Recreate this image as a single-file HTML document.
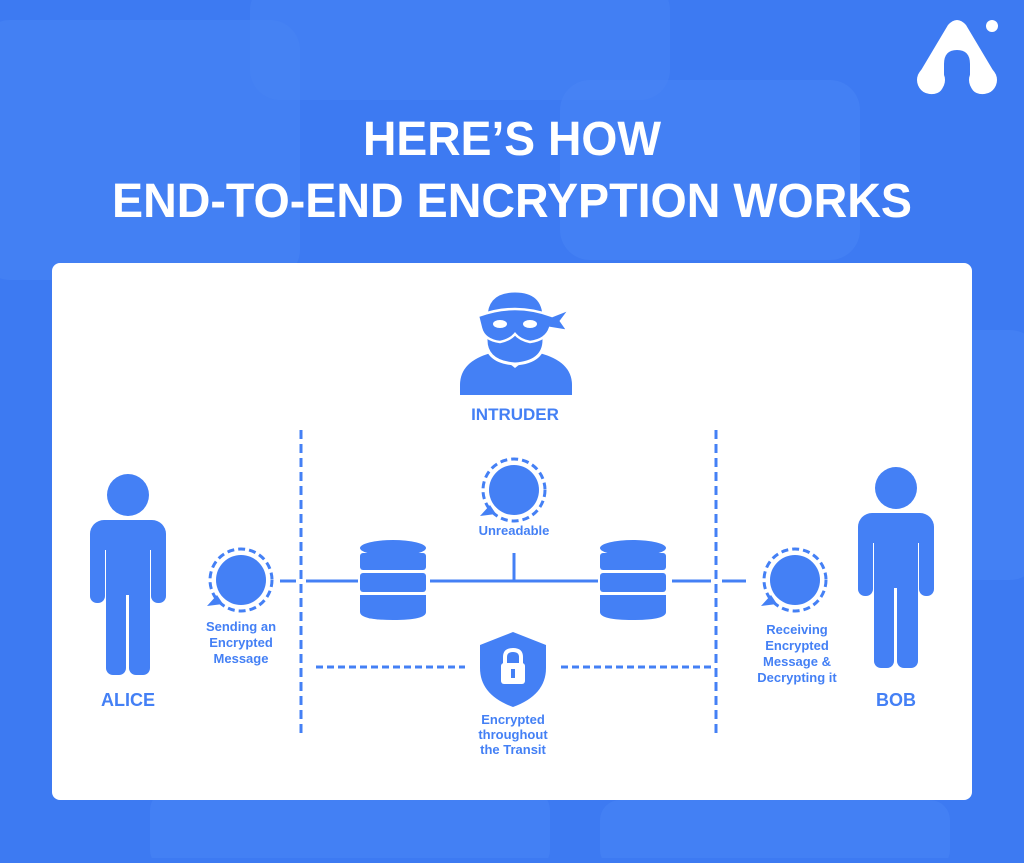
<!DOCTYPE html>
<html><head><meta charset="utf-8"><style>
html,body{margin:0;padding:0}
body{width:1024px;height:858px;overflow:hidden;background:#3d7af2;font-family:"Liberation Sans",sans-serif}
</style></head><body>
<svg width="1024" height="858" viewBox="0 0 1024 858" xmlns="http://www.w3.org/2000/svg">
<defs>
<g id="person">
<circle cx="0" cy="-80" r="21"/>
<rect x="-38" y="-55" width="76" height="30" rx="14"/>
<rect x="-38" y="-45" width="15" height="73" rx="7"/>
<rect x="23" y="-45" width="15" height="73" rx="7"/>
<rect x="-22" y="-55" width="44" height="75"/>
<rect x="-22" y="0" width="20" height="100" rx="7"/>
<rect x="1" y="0" width="21" height="100" rx="7"/>
</g>
<g id="bubble"><circle cx="0" cy="0" r="25"/><circle cx="0" cy="0" r="31" fill="none" stroke="#4480f5" stroke-width="3" stroke-dasharray="7 4"/><path d="M-24,15 L-34,26 L-18,24Z"/></g>
<g id="db"><ellipse cx="0" cy="0" rx="33" ry="8"/><rect x="-33" y="5" width="66" height="17" rx="3"/><rect x="-33" y="25" width="66" height="19" rx="3"/><path d="M-33,47 H33 V64 Q33,72 0,72 Q-33,72 -33,64Z"/></g>
</defs>
<rect x="-20" y="20" width="320" height="260" rx="30" fill="#4784f4" opacity="0.6"/>
<rect x="250" y="-20" width="420" height="120" rx="30" fill="#4784f4" opacity="0.5"/>
<rect x="560" y="80" width="300" height="180" rx="30" fill="#4a86f5" opacity="0.5"/>
<rect x="880" y="330" width="160" height="250" rx="30" fill="#4a86f5" opacity="0.5"/>
<rect x="150" y="790" width="400" height="80" rx="20" fill="#4a86f5" opacity="0.5"/>
<rect x="600" y="800" width="350" height="70" rx="20" fill="#4a86f5" opacity="0.5"/>
<g fill="#fff">
<path fill-rule="evenodd" d="M948,25 Q957,15 966,25 L994,72 Q1000,92 984,94 Q970,95 970,80 L970,64 Q970,50 957,50 Q944,50 944,64 L944,80 Q944,95 930,94 Q914,92 920,72 Z"/>
<circle cx="931" cy="80" r="14"/><circle cx="983" cy="80" r="14"/>
<circle cx="992" cy="26" r="6"/></g>
<text x="512" y="155" text-anchor="middle" fill="#fff" font-weight="bold" font-size="48" textLength="298" lengthAdjust="spacingAndGlyphs">HERE’S HOW</text>
<text x="512" y="217" text-anchor="middle" fill="#fff" font-weight="bold" font-size="48" textLength="800" lengthAdjust="spacingAndGlyphs">END-TO-END ENCRYPTION WORKS</text>
<rect x="52" y="263" width="920" height="537" rx="8" fill="#fff"/>
<g fill="#4480f5">
<use href="#person" x="128" y="575"/>
<use href="#person" x="896" y="568"/>
<use href="#bubble" x="241" y="580"/>
<use href="#bubble" x="795" y="580"/>
<use href="#bubble" x="514" y="490"/>
<use href="#db" x="393" y="548"/>
<use href="#db" x="633" y="548"/>
<path d="M460,395 V385 Q460,360 495,352 L515,368 L535,352 Q572,360 572,385 V395Z"/>
<path d="M486,318 Q486,291 515,291 Q544,291 544,318 V340 Q544,362 515,364 Q486,362 486,340Z" stroke="#fff" stroke-width="3"/>
<path d="M478,316 Q515,302 552,316 L570,309 L561,321 L568,331 L550,328 Q546,340 530,342 Q520,340 515,334 Q510,340 500,342 Q484,340 481,328Z" stroke="#fff" stroke-width="2.5"/>
<path d="M513,632 L546,645 V668 Q546,695 513,707 Q480,695 480,668 V645Z"/>
</g>
<ellipse cx="500" cy="324" rx="7" ry="4" fill="#fff"/><ellipse cx="530" cy="324" rx="7" ry="4" fill="#fff"/>
<rect x="501" y="663" width="24" height="21" rx="3" fill="#fff"/><path d="M505,664 V657 Q505,650 513,650 Q521,650 521,657 V664" fill="none" stroke="#fff" stroke-width="4"/><rect x="511" y="669" width="4" height="9" fill="#4480f5"/>
<g stroke="#4480f5" stroke-width="3" fill="none">
<line x1="301" y1="430" x2="301" y2="737" stroke-dasharray="9 5"/>
<line x1="716" y1="430" x2="716" y2="737" stroke-dasharray="9 5"/>
<line x1="280" y1="581" x2="296" y2="581"/>
<line x1="306" y1="581" x2="358" y2="581"/>
<line x1="430" y1="581" x2="598" y2="581"/>
<line x1="514" y1="553" x2="514" y2="581"/>
<line x1="672" y1="581" x2="711" y2="581"/>
<line x1="722" y1="581" x2="746" y2="581"/>
<line x1="316" y1="667" x2="465" y2="667" stroke-dasharray="7 4"/>
<line x1="561" y1="667" x2="711" y2="667" stroke-dasharray="7 4"/>
</g>
<g fill="#4480f5" font-weight="bold" text-anchor="middle">
<text x="515" y="420" font-size="17">INTRUDER</text>
<text x="128" y="706" font-size="18">ALICE</text>
<text x="896" y="706" font-size="18">BOB</text>
<g font-size="13">
<text x="241" y="631">Sending an</text><text x="241" y="647">Encrypted</text><text x="241" y="663">Message</text>
<text x="514" y="535">Unreadable</text>
<text x="513" y="724">Encrypted</text><text x="513" y="739">throughout</text><text x="513" y="754">the Transit</text>
<text x="797" y="634">Receiving</text><text x="797" y="650">Encrypted</text><text x="797" y="666">Message &amp;</text><text x="797" y="682">Decrypting it</text>
</g></g>
</svg>
</body></html>
